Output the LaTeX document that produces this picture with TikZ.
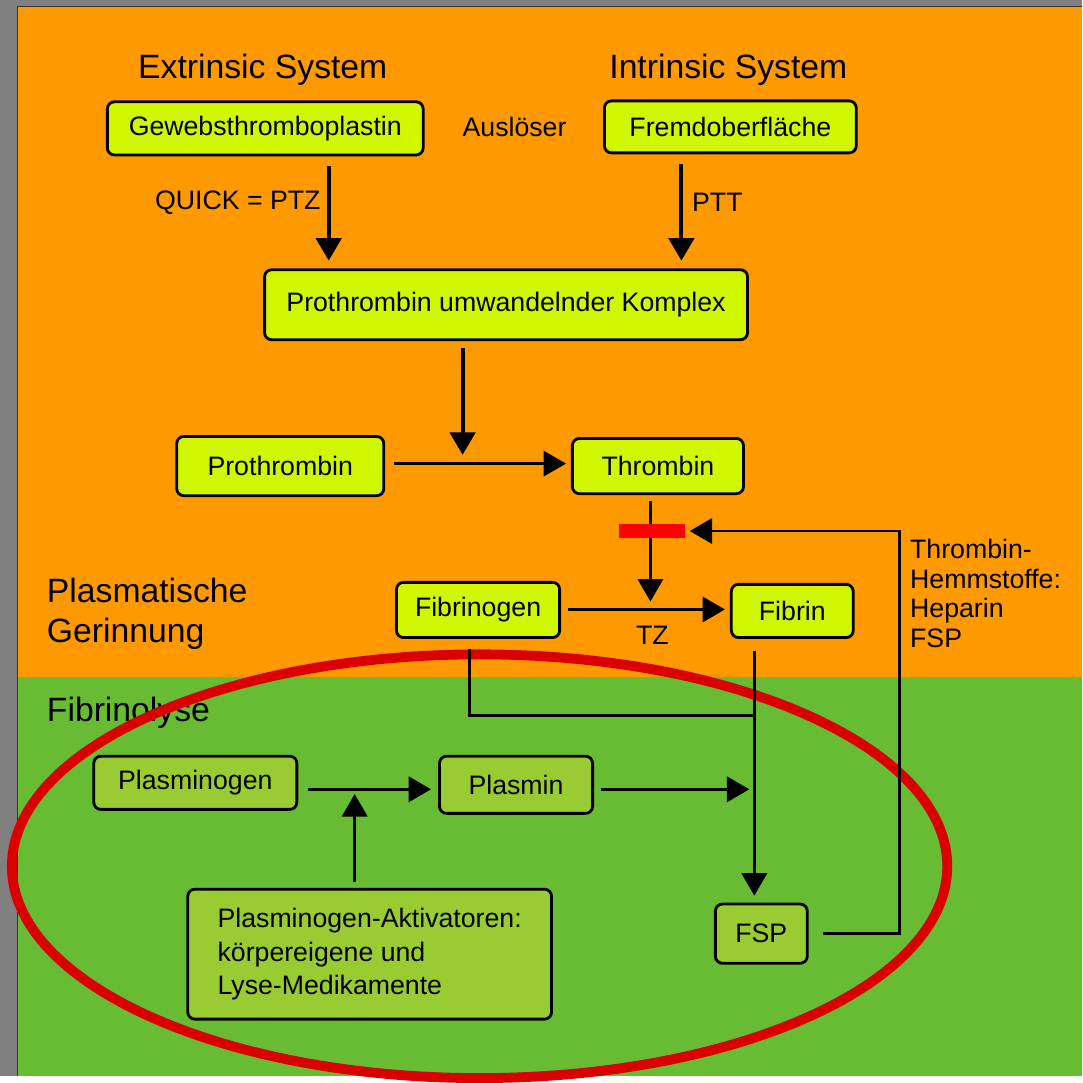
\documentclass[tikz,border=0pt]{standalone}
\usepackage{fontspec}
\setmainfont{Liberation Sans}
\usepackage{xcolor}
\usepackage{tikz}
\usetikzlibrary{arrows.meta}

\definecolor{frame}{RGB}{128,128,128}
\definecolor{orangebg}{RGB}{255,153,0}
\definecolor{greenbg}{RGB}{104,188,52}
\definecolor{lime}{RGB}{208,246,0}
\definecolor{leaf}{RGB}{153,204,51}
\definecolor{ringred}{RGB}{218,0,0}

\begin{document}
\begin{tikzpicture}[x=0.025cm,y=-0.025cm]
\tikzstyle{box} = [draw, line width=2pt, rounded corners=5pt, fill=lime, inner sep=0pt, font=\fontsize{19}{23}\selectfont]
\tikzstyle{lowbox} = [box, fill=leaf]
\tikzstyle{txt} = [font=\fontsize{19}{23}\selectfont]
\tikzstyle{head} = [font=\fontsize{24}{28.4}\selectfont]
\tikzstyle{arr} = [line width=2pt, -{Triangle[length=16pt,width=18pt]}]
\tikzstyle{bigarr} = [arr, line width=2.8pt]
\tikzstyle{wire} = [line width=2pt]
%

	% hintergrund
	\fill[frame] (0,0) rectangle (1083,1077);
	\fill[orangebg] (18,7) rectangle (1083,678);
	\fill[greenbg] (18,678) rectangle (1083,1077);
	\draw[line width=1.2pt, black!80] (17.5,1077) -- (17.5,6.5) -- (1083,6.5);

	% ueberschriften
	\node[head] (extr) at (263,70) {Extrinsic System};
	\node[head] (intr) at (729,70) {Intrinsic System};
	\node[head, anchor=west, align=left] (plasma) at (42,614) {Plasmatische\\Gerinnung};
	\node[head, anchor=west] (lyse) at (42,713) {Fibrinolyse};
	\node[txt] (ausl) at (515,127) {Auslöser};
	\node[txt] (quick) at (238,203) {QUICK = PTZ};
	\node[txt] (ptt) at (718,203) {PTT};
	\node[txt] (tz) at (653,636) {TZ};
	\node[txt, anchor=west, align=left, font=\fontsize{19}{21.3}\selectfont] (hemm) at (906,594) {Thrombin-\\Hemmstoffe:\\Heparin\\FSP};

	% markierung
	\draw[ringred, line width=7pt] (480,867) ellipse [x radius=11.7cm, y radius=5.3cm];

	% kaskade
	\node[box, minimum width=7.9cm, minimum height=1.33cm] (gewebe) at (265.5,128.5) {Gewebsthromboplastin};
	\node[box, minimum width=6.3cm, minimum height=1.3cm] (fremd) at (731,127) {Fremdoberfläche};
	\node[box, minimum width=12.08cm, minimum height=1.75cm] (komplex) at (506.5,305) {Prothrombin umwandelnder Komplex};
	\node[box, minimum width=5.18cm, minimum height=1.48cm] (prothrombin) at (280.5,466.5) {Prothrombin};
	\node[box, minimum width=4.28cm, minimum height=1.38cm] (thrombin) at (658.5,466.5) {Thrombin};
	\node[box, minimum width=4.08cm, minimum height=1.38cm] (fibrinogen) at (478.5,610.5) {Fibrinogen};
	\node[box, minimum width=3.05cm, minimum height=1.33cm] (fibrin) at (793,611.5) {Fibrin};
	\node[lowbox, minimum width=5.08cm, minimum height=1.33cm] (plasminogen) at (195.5,783.5) {Plasminogen};
	\node[lowbox, minimum width=3.83cm, minimum height=1.43cm] (plasmin) at (516.5,785.5) {Plasmin};
	\node[lowbox, minimum width=9.1cm, minimum height=3.25cm, align=left, font=\fontsize{19}{23.8}\selectfont] (aktiv) at (370,955) {Plasminogen-Aktivatoren:\\körpereigene und\\Lyse-Medikamente};
	\node[lowbox, minimum width=2.3cm, minimum height=1.48cm] (fsp) at (762,934.5) {FSP};

	\coordinate (ruck) at (900,531.5);
	\coordinate (knoten) at (755,716);
	\coordinate (ziel) at (750,790);

	% pfeile
	\draw[bigarr, shorten <=7pt, shorten >=5.5pt] (gewebe.south -| 329,0) -- (komplex.north -| 329,0);
	\draw[bigarr, shorten <=7pt, shorten >=5.5pt] (fremd.south -| 682,0) -- (komplex.north -| 682,0);
	\draw[bigarr, shorten <=5pt, shorten >=8pt] (komplex.south -| 463,0) -- (prothrombin.east -| 463,0);
	\draw[arr, shorten <=6.5pt, shorten >=3.5pt] (prothrombin.east |- 0,464) -- (thrombin.west |- 0,464);
	\draw[arr, shorten <=4pt, shorten >=6pt] (thrombin.south -| 651,0) -- (fibrinogen.east -| 651,0);
	\draw[arr, shorten <=5pt, shorten >=3.5pt] (fibrinogen.east |- 0,610) -- (fibrin.west |- 0,610);
	\draw[wire, shorten <=7pt] (fibrinogen.south -| 470,0) |- (knoten);
	\draw[arr, shorten <=8.5pt, shorten >=5pt] (fibrin.south -| 755,0) -- (fsp.north -| 755,0);
	\draw[arr, shorten <=7pt, shorten >=5pt] (plasminogen.east |- 0,790) -- (plasmin.west |- 0,790);
	\draw[arr, shorten <=4pt, shorten >=8pt] (aktiv.north -| 355,0) -- (plasminogen.east -| 355,0);
	\draw[arr, shorten <=5pt] (plasmin.east |- ziel) -- (ziel);

	% hemmung
	\node[fill=red, minimum width=1.63cm, minimum height=0.33cm, inner sep=0pt] (sperre) at (652.5,531.5) {};
	\draw[arr, shorten <=10pt, shorten >=3.5pt] (fsp.east) -| (ruck) -- (sperre.east);
\end{tikzpicture}
\end{document}
